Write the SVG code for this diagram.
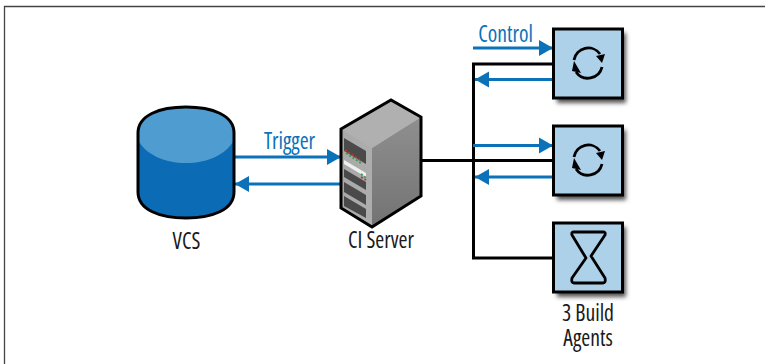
<svg xmlns="http://www.w3.org/2000/svg" width="765" height="364" viewBox="0 0 765 364">
<defs>
<marker id="arrow" markerUnits="userSpaceOnUse" markerWidth="15" markerHeight="18" refX="14" refY="9" orient="auto"><path d="M0 1L14 9L0 17Z" fill="#0b72b9"/></marker>
<linearGradient id="front" x1="0" y1="0" x2="1" y2="0"><stop offset="0" stop-color="#a8a8a8"/><stop offset="0.85" stop-color="#b4b4b4"/><stop offset="1" stop-color="#d0d0d0"/></linearGradient>
<linearGradient id="side" x1="0" y1="0" x2="0" y2="1"><stop offset="0" stop-color="#8f8f8f"/><stop offset="1" stop-color="#737373"/></linearGradient>
<filter id="shadow" x="-20%" y="-20%" width="145%" height="145%"><feGaussianBlur stdDeviation="2"/></filter>
</defs>
<style>
text{font-family:"Open Sans","Noto Sans","Liberation Sans",sans-serif;font-stretch:condensed;font-size:23px;fill:#1a1a1a;text-anchor:middle}
.lbl{fill:#0b72b9}
.wire{fill:none;stroke:#000;stroke-width:3}
.flow{fill:none;stroke:#0b72b9;stroke-width:3;marker-end:url(#arrow)}
.box{fill:#add1e9;stroke:#000;stroke-width:3}
.shade{fill:#555;filter:url(#shadow)}
.glyph{fill:none;stroke:#000;stroke-width:2.800;stroke-linejoin:round}
.slot{fill:#4a4a4a}
</style>
<path id="frame" d="M4.500 364V6.500H765" fill="none" stroke="#444" stroke-width="1.300"/>
<g id="connectors">
<path class="wire" d="M421 160.500H553"/>
<path class="wire" d="M553 64H473.500V258H553"/>
<path class="flow" d="M233 157H341"/>
<path class="flow" d="M341 184H235"/>
<path class="flow" d="M473 48H553"/>
<path class="flow" d="M554 79.500H475"/>
<path class="flow" d="M473 145.500H553"/>
<path class="flow" d="M554 177H475"/>
<text class="lbl" x="0" y="149" transform="translate(289.500 0) scale(.94 1)">Trigger</text>
<text class="lbl" x="0" y="42" transform="translate(505.500 0) scale(.94 1)">Control</text>
</g>
<g id="vcs">
<path d="M138 133C138 115 160 107 186 107S234 115 234 133V192C234 210 212 218 186 218S138 210 138 192Z" fill="#0b6cb5"/>
<path d="M138 133C138 115 160 107 186 107S234 115 234 133V140C226 155 207 163 186 163S146 155 138 140Z" fill="#4f9dd0"/>
<path d="M138 133C138 115 160 107 186 107S234 115 234 133V192C234 210 212 218 186 218S138 210 138 192Z" fill="none" stroke="#000" stroke-width="3"/>
<text x="0" y="249" transform="translate(186.500 0) scale(.94 1)">VCS</text>
</g>
<g id="ci-server">
<path d="M341 129L391 100L421 117V196L372 227L341 208Z" fill="url(#front)"/>
<path d="M372 148L421 117V196L372 227Z" fill="url(#side)"/>
<path d="M341 129L391 100L421 117L372 148Z" fill="#b0b0b0"/>
<path class="slot" d="M344 138L366 151V164L344 151Z"/>
<path d="M344 160L366 173V177L344 164Z" fill="#efefef"/>
<path class="slot" d="M344 169L366 182V190L344 177Z"/>
<path class="slot" d="M344 182L366 195V205L344 192Z"/>
<path class="slot" d="M344 196L366 209V218L344 206Z"/>
<path d="M345 150L360 160" stroke="#c0392b" stroke-width="2" stroke-dasharray="2 2"/>
<path d="M346 153L361 163" stroke="#3a9a5a" stroke-width="2" stroke-dasharray="2 2"/>
<path d="M361 174L366 178" stroke="#3a9a5a" stroke-width="2" stroke-dasharray="2 2"/>
<path d="M361 177L366 180" stroke="#c0392b" stroke-width="2" stroke-dasharray="2 2"/>
<path d="M341 129L391 100L421 117V196L372 227L341 208Z" fill="none" stroke="#000" stroke-width="3"/>
<text x="0" y="248" transform="translate(381 0) scale(.94 1)">CI Server</text>
</g>
<g id="agent-1">
<rect class="shade" x="557" y="33" width="69" height="70"/>
<rect class="box" x="553.500" y="29" width="69" height="69"/>
<path class="glyph" d="M574 60A14.500 14.500 0 0 1 600 54M602 67A14.500 14.500 0 0 1 576 72"/>
<path d="M596 56L605 54L602 63Z M572 71L581 73L574 61Z" fill="#000"/>
</g>
<g id="agent-2">
<rect class="shade" x="557" y="130" width="69" height="70"/>
<rect class="box" x="553.500" y="126" width="69" height="69"/>
<path class="glyph" d="M574 157A14.500 14.500 0 0 1 600 151M602 164A14.500 14.500 0 0 1 576 169"/>
<path d="M596 153L605 151L602 160Z M572 168L581 170L574 158Z" fill="#000"/>
</g>
<g id="agent-3">
<rect class="shade" x="557" y="227" width="69" height="70"/>
<rect class="box" x="553.500" y="223" width="69" height="69"/>
<path class="glyph" d="M574 232H603Q606 232 605 235L591 256L605 278Q606 283 603 283H574Q571 283 572 278L586 258L572 235Q571 232 574 232Z"/>
<text x="0" y="321" transform="translate(588 0) scale(.94 1)">3 Build</text>
<text x="0" y="346" transform="translate(588 0) scale(.94 1)">Agents</text>
</g>
</svg>
